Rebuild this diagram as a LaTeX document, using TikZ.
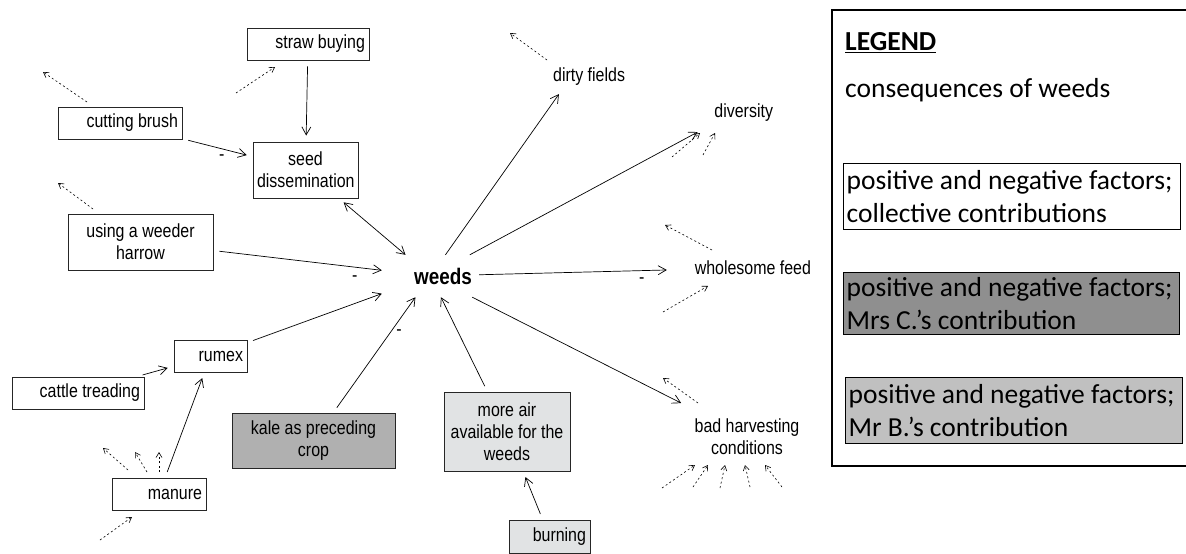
\documentclass[tikz,border=0pt]{standalone}
\usepackage{fontspec}
\usepackage{tikz}
\usetikzlibrary{positioning, arrows.meta}

\newfontfamily\arialfont[FakeStretch=0.84]{Liberation Sans}
\newfontfamily\calibrifont{Carlito}
\newcommand{\factorfont}{\arialfont\fontsize{19}{22}\selectfont}
\newcommand{\weedsfont}{\arialfont\bfseries\fontsize{22.5}{24}\selectfont}
\newcommand{\legendfont}{\calibrifont\fontsize{27.5}{33}\selectfont}

\definecolor{kalefill}{HTML}{B0B0B0}
\definecolor{airfill}{HTML}{E1E3E4}
\definecolor{mrscfill}{HTML}{8F8F8F}
\definecolor{mrbfill}{HTML}{C0C0C0}

\begin{document}
\begin{tikzpicture}[
    x=1pt, y=-1pt,
    factor/.style = {draw=black!85, line width=0.9pt, fill=white, align=flush right,
                     inner xsep=4pt, inner ysep=0pt, font=\factorfont},
    mrsc/.style   = {factor, fill=kalefill},
    mrb/.style    = {factor, fill=airfill},
    conseq/.style = {align=flush right, inner ysep=0pt, font=\factorfont},
    flow/.style   = {-{Straight Barb[length=8pt, width=9pt]}, line width=0.7pt},
    stub/.style   = {-{Straight Barb[length=5pt, width=6pt]}, line width=0.6pt,
                     dash pattern=on 2pt off 2.5pt},
    neg/.style    = {font=\factorfont, inner sep=0pt},
    legkey/.style = {draw=black, line width=1.2pt, align=flush left, anchor=north west,
                     inner xsep=3pt, inner ysep=1pt, font=\legendfont},
  ]
  \useasboundingbox (0,0) rectangle (1186,554);

  % factors
  \node[factor, text width=114pt, minimum height=32pt] (straw) at (308,44) {straw buying};
  \node[factor, text width=116pt, minimum height=32pt] (cut) at (120,123) {cutting brush};
  \node[factor, align=flush center, text width=97pt, minimum height=56pt] (seed) at (305.5,170)
      {seed\\dissemination};
  \node[factor, align=flush center, text width=137pt, minimum height=56pt] (harrow) at (140.5,242)
      {using a weeder\\harrow};
  \node[factor, text width=65pt, minimum height=32pt] (rumex) at (210.5,356) {rumex};
  \node[factor, text width=124pt, minimum height=32pt] (cattle) at (78,393) {cattle treading};
  \node[factor, text width=86pt, minimum height=32pt] (manure) at (159,494) {manure};
  \node[mrsc, align=flush center, text width=155pt, minimum height=55pt] (kale) at (313.5,440.5)
      {kale as preceding\\crop};
  \node[mrb, align=flush center, text width=118pt, minimum height=79pt] (air) at (507,431.5)
      {more air\\available for the\\weeds};
  \node[mrb, text width=73pt, minimum height=33pt] (burn) at (549.5,536.5) {burning};

  % weeds and its consequences
  \node[conseq, inner xsep=7pt, text width=83pt, minimum height=42pt, font=\weedsfont]
      (weeds) at (430.5,276) {weeds};
  \node[conseq, inner xsep=1pt, text width=108pt, minimum height=24pt] (dirty) at (571,77) {dirty fields};
  \node[conseq, inner xsep=3pt, text width=80pt, minimum height=32pt] (div) at (733,113) {diversity};
  \node[conseq, inner xsep=4pt, text width=134pt, minimum height=24pt] (feed) at (744,268) {wholesome feed};
  \node[conseq, align=flush center, inner xsep=4pt, text width=118pt, minimum height=61pt]
      (bad) at (747,436.5) {bad harvesting\\conditions};

  \foreach \a/\b in {straw/seed, cattle/rumex, manure/rumex, burn/air}
    \draw[flow, shorten <=6pt, shorten >=6pt] (\a) -- (\b);
  \draw[flow, shorten <=6pt, shorten >=6pt] (cut) -- node[neg, pos=.56, below=6pt] {-} (seed);
  \draw[flow, {Straight Barb[length=8pt, width=9pt]}-{Straight Barb[length=8pt, width=9pt]},
        shorten <=6pt] (seed) -- (weeds);
  \foreach \a in {rumex, air}
    \draw[flow, shorten <=6pt] (\a) -- (weeds);
  \draw[flow, shorten <=6pt] (harrow) -- node[neg, pos=.84, below=8pt] {-} (weeds);
  \draw[flow, shorten <=6pt] (kale) -- node[neg, pos=.69, right=6pt] {-} (weeds);
  \foreach \b in {dirty, div, bad}
    \draw[flow, shorten >=6pt] (weeds) -- (\b);
  \draw[flow, shorten >=6pt] (weeds) -- node[neg, pos=.84, below=7pt] {-} (feed);

  % dashed stubs
  \foreach \tx/\ty/\hx/\hy in {87/102/43/72, 236/93/275/67, 93/209/58/183, 547/60/510/33,
                               672/157/700/133, 703/155/715/133, 712/250/665/225, 663/312/708/286,
                               698/403/663/378, 662/488/695/465, 693/487/708/465, 720/488/725/465,
                               750/487/745/465, 782/487/765/465, 128/470/103/448, 147/472/135/452,
                               159/472/159/452, 100/540/132/517}
  {
    \coordinate (tail) at (\tx,\ty);
    \coordinate (tip) at (\hx,\hy);
    \draw[stub] (tail) -- (tip);
  }

  % legend
  \draw[line width=2pt] (832,10) rectangle (1200,466);
  \node[anchor=west, inner sep=0pt, font=\legendfont] (legtitle) at (845,43)
      {\underline{\textbf{LEGEND}}};
  \node[anchor=west, inner sep=0pt, font=\legendfont] (legcons) at (845,90)
      {consequences of weeds};
  \node[legkey, text width=331pt, minimum height=66pt] (legcoll) at (843,163)
      {positive and negative factors;\\collective contributions};
  \node[legkey, fill=mrscfill, text width=330pt, minimum height=62pt] (legmrsc) at (843,272)
      {positive and negative factors;\\Mrs C.’s contribution};
  \node[legkey, fill=mrbfill, text width=331pt, minimum height=66pt] (legmrb) at (845,377)
      {positive and negative factors;\\Mr B.’s contribution};
\end{tikzpicture}
\end{document}
